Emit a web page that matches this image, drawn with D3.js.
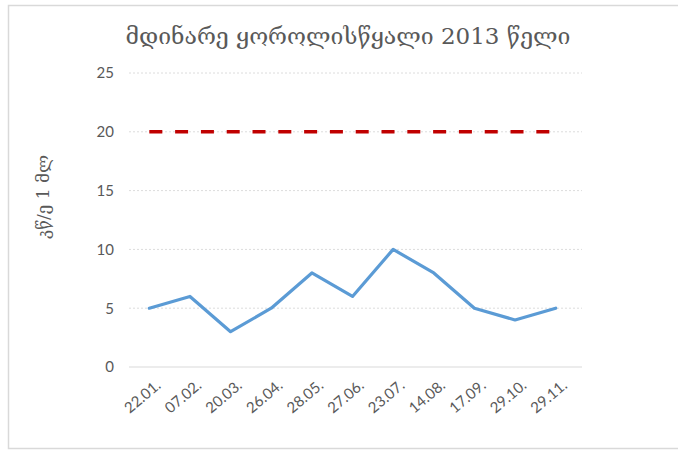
<!DOCTYPE html>
<html>
<head>
<meta charset="utf-8">
<script src="https://cdn.jsdelivr.net/npm/d3@7"></script>
<style>
  html, body { margin: 0; padding: 0; background: #fff; }
  svg { display: block; }
</style>
</head>
<body>
<svg id="chart" width="678" height="450"></svg>
<script>
// Sampling dates (day.month.)
const dates = ["22.01.", "07.02.", "20.03.", "26.04.", "28.05.", "27.06.", "23.07.", "14.08.", "17.09.", "29.10.", "29.11."];
// Measured values
const measured = [5, 6, 3, 5, 8, 6, 10, 8, 5, 4, 5];
// Permissible limit
const limit = [20, 20, 20, 20, 20, 20, 20, 20, 20, 20, 20];
// Y axis ticks
const yTicks = [0, 5, 10, 15, 20, 25];

const titleText = "მდინარე ყოროლისწყალი 2013 წელი";
const yTitle = "კწ/ე 1 მლ";

const svg = d3.select("#chart");
const plot = { left: 129, right: 576, top: 73, bottom: 367 };

// Outer frame
svg.append("path")
  .attr("d", `M700,5.5 H8.5 V448.5 H700`)
  .attr("fill", "none")
  .attr("stroke", "#d9d9d9")
  .attr("stroke-width", 1.5);

const x = d3.scalePoint()
  .domain(dates)
  .range([plot.left, plot.right])
  .padding(0.5);

const y = d3.scaleLinear()
  .domain([0, 25])
  .range([plot.bottom, plot.top]);

// Horizontal gridlines
svg.append("g")
  .selectAll("line")
  .data(yTicks.filter(d => d > 0))
  .join("line")
  .attr("x1", plot.left)
  .attr("x2", plot.right + 6)
  .attr("y1", d => y(d))
  .attr("y2", d => y(d))
  .attr("stroke", "#dcdcdc")
  .attr("stroke-width", 1)
  .attr("stroke-dasharray", "2,2");

// Category axis line
svg.append("line")
  .attr("x1", plot.left).attr("x2", plot.right + 6)
  .attr("y1", y(0)).attr("y2", y(0))
  .attr("stroke", "#d9d9d9")
  .attr("stroke-width", 1.2);

// Y axis labels
const yAxis = d3.axisLeft(y).tickValues(yTicks).tickSize(0).tickPadding(0);
const gy = svg.append("g")
  .attr("transform", `translate(${plot.left - 15},0)`)
  .call(yAxis);
gy.select(".domain").remove();
gy.selectAll("text")
  .attr("font-family", "Lato, 'Open Sans', sans-serif")
  .attr("font-size", 15)
  .attr("fill", "#595959");

// X axis labels, rotated
const xAxis = d3.axisBottom(x).tickSize(0).tickPadding(0);
const gx = svg.append("g")
  .attr("transform", `translate(0,${y(0)})`)
  .call(xAxis);
gx.select(".domain").remove();
gx.selectAll("text")
  .attr("font-family", "Lato, 'Open Sans', sans-serif")
  .attr("font-size", 15)
  .attr("fill", "#595959")
  .attr("text-anchor", "end")
  .attr("dy", "0")
  .attr("y", 0)
  .attr("transform", "translate(12,20) rotate(-40)");

// Limit line (dashed)
const line = d3.line().x((d, i) => x(dates[i])).y(d => y(d));
svg.append("path")
  .datum(limit)
  .attr("d", line)
  .attr("fill", "none")
  .attr("stroke", "#c00000")
  .attr("stroke-width", 3.5)
  .attr("stroke-dasharray", "13,12.8");

// Measured series
svg.append("path")
  .datum(measured)
  .attr("d", line)
  .attr("fill", "none")
  .attr("stroke", "#5b9bd5")
  .attr("stroke-width", 3.2)
  .attr("stroke-linejoin", "round")
  .attr("stroke-linecap", "round");

// Chart title
svg.append("text")
  .attr("x", 348)
  .attr("y", 44)
  .attr("text-anchor", "middle")
  .attr("font-family", "'DejaVu Serif', serif")
  .attr("font-size", 23)
  .attr("fill", "#595959")
  .text(titleText);

// Y axis title
svg.append("text")
  .attr("transform", `translate(49,197) rotate(-90)`)
  .attr("text-anchor", "middle")
  .attr("font-family", "'DejaVu Serif', serif")
  .attr("font-size", 17)
  .attr("fill", "#595959")
  .text(yTitle);
</script>
</body>
</html>
